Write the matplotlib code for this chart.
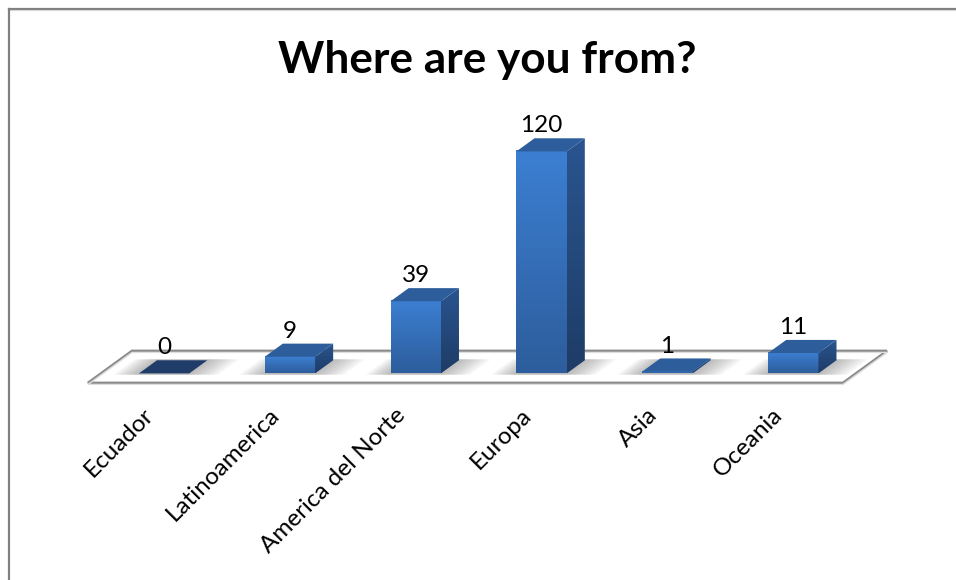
import numpy as np
import matplotlib.pyplot as plt
from matplotlib.patches import Polygon
from matplotlib.lines import Line2D
from matplotlib.colors import LinearSegmentedColormap

# ---- data ----
categories = ["Ecuador", "Latinoamerica", "America del Norte", "Europa", "Asia", "Oceania"]
counts = [0, 9, 39, 120, 1, 11]
title = "Where are you from?"

# ---- figure ----
W, H, DPI = 956, 580, 100
fig = plt.figure(figsize=(W / DPI, H / DPI), dpi=DPI)
ax = fig.add_axes([0, 0, 1, 1])
ax.set_axis_off()

FONT = "Lato"

# plot geometry (pixels)
px_per_cat = 125.83
px_per_unit = 1.85
x_left_px = 88      # front-left corner of the floor
y_floor_px = 383    # front edge of the floor, measured from top
n = len(categories)
ax.set_xlim(-0.5 - x_left_px / px_per_cat, -0.5 + (W - x_left_px) / px_per_cat)
ax.set_ylim(-(H - y_floor_px) / px_per_unit, y_floor_px / px_per_unit)

# oblique projection for the depth axis (z = 0 front, z = 1 back)
DX = 44 / px_per_cat
DY = 32 / px_per_unit


def proj(x, v, z):
    return (x + z * DX, v + z * DY)


# ---- floor ----
floor = [proj(-0.5, 0, 0), proj(n - 0.5, 0, 0), proj(n - 0.5, 0, 1), proj(-0.5, 0, 1)]
ax.add_patch(Polygon(floor, closed=True, facecolor="white", edgecolor="#8a8a8a",
                     linewidth=2.0, zorder=1, joinstyle="miter"))
# faint inner line along the floor edges
inner = [(x, y - 1.4 / px_per_unit) for x, y in floor]
ax.add_patch(Polygon(inner, closed=True, facecolor="none", edgecolor="#dedede",
                     linewidth=1.0, zorder=1.1))

# ---- bars ----
z0, z1 = 0.30, 0.71
hw = 0.2
front_cmap = LinearSegmentedColormap.from_list("front", ["#2d5d9c", "#3c7fd2"])
side_cmap = LinearSegmentedColormap.from_list("side", ["#1e3c66", "#2a5590"])
grad = np.linspace(0, 1, 256).reshape(-1, 1)

for i, v in enumerate(counts):
    # soft shadow on the floor
    for k in range(10):
        e = k * 2.6 / px_per_cat
        shadow = [proj(i - hw - e, 0, z0 - 0.04), proj(i + hw + e * 1.3, 0, z0 - 0.04),
                  proj(i + hw + e * 1.3, 0, z1 + 0.03), proj(i - hw - e, 0, z1 + 0.03)]
        ax.add_patch(Polygon(shadow, closed=True, facecolor="#6e6e6e", edgecolor="none",
                             alpha=0.06, zorder=2))

    if v == 0:
        top = [proj(i - hw, 0, z0), proj(i + hw, 0, z0), proj(i + hw, 0, z1), proj(i - hw, 0, z1)]
        ax.add_patch(Polygon(top, closed=True, facecolor="#1f3d68", edgecolor="none", zorder=5))
    else:
        fx0, fy0 = proj(i - hw, 0, z0)
        fx1, fy1 = proj(i + hw, v, z0)
        ax.imshow(grad, cmap=front_cmap, origin="lower", aspect="auto",
                  extent=(fx0, fx1, fy0, fy1), zorder=5, interpolation="bilinear")
        side = [proj(i + hw, 0, z0), proj(i + hw, 0, z1), proj(i + hw, v, z1), proj(i + hw, v, z0)]
        sp = Polygon(side, closed=True, facecolor="none", edgecolor="none")
        ax.add_patch(sp)
        xs = [p[0] for p in side]
        ys = [p[1] for p in side]
        im = ax.imshow(grad, cmap=side_cmap, origin="lower", aspect="auto",
                       extent=(min(xs), max(xs), min(ys), max(ys)), zorder=5,
                       interpolation="bilinear")
        im.set_clip_path(sp)
        top = [proj(i - hw, v, z0), proj(i + hw, v, z0), proj(i + hw, v, z1), proj(i - hw, v, z1)]
        ax.add_patch(Polygon(top, closed=True, facecolor="#2d5e9b", edgecolor="none", zorder=6))

    # value label
    ax.annotate(str(v), xy=proj(i, v, z0), xytext=(0, 19), textcoords="offset pixels",
                ha="center", va="baseline", fontsize=17.5, family=FONT, color="black",
                zorder=8)

    # category label
    ax.annotate(categories[i], xy=proj(i, 0, 0), xytext=(-8, -21), textcoords="offset pixels",
                ha="right", va="top", rotation=45, rotation_mode="anchor",
                fontsize=17.5, family=FONT, color="black", zorder=8)

# ---- title ----
fig.text(487.5 / W, 1 - 73 / H, title, ha="center", va="baseline",
         fontsize=31.8, fontweight="bold", family=FONT, color="black")

# ---- chart frame (top and left edges) ----
fig.add_artist(Line2D([8.5 / W, 1], [1 - 8.5 / H, 1 - 8.5 / H], color="#808080", linewidth=1.6))
fig.add_artist(Line2D([8.5 / W, 1], [1 - 10 / H, 1 - 10 / H], color="#d8d8d8", linewidth=0.8))
fig.add_artist(Line2D([8.5 / W, 8.5 / W], [0, 1 - 8.5 / H], color="#808080", linewidth=1.6))

fig.savefig("out.png", dpi=DPI, facecolor="white")
